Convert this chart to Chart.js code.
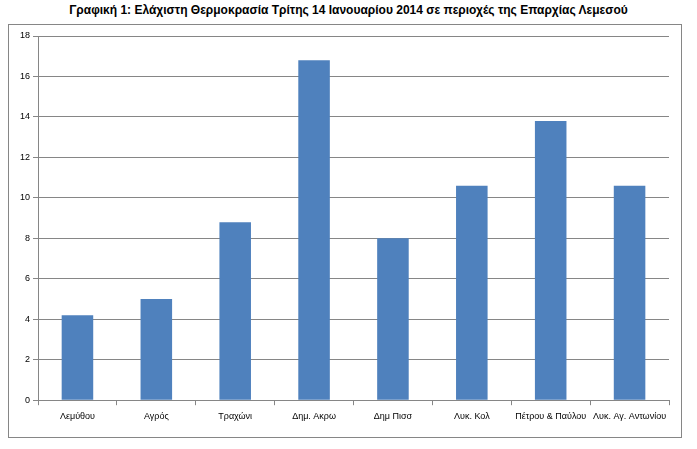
<!DOCTYPE html><html><head><script src="https://cdn.jsdelivr.net/npm/chart.js@4"></script>
<style>body{margin:0;background:#fff}#t{position:absolute;left:0;top:3px;width:697px;text-align:center;font:bold 12px "Liberation Sans";}#b{position:absolute;left:8px;top:24px;width:672px;height:412px;border:1px solid #868686;}#w{position:absolute;left:9px;top:26px;width:670px;height:410px}</style></head><body>
<div id="t">Γραφική 1: Ελάχιστη Θερμοκρασία Τρίτης 14 Ιανουαρίου 2014 σε περιοχές της Επαρχίας Λεμεσού</div>
<div id="b"></div><div id="w"><canvas id="c"></canvas></div>
<script>
const categories=["Λεμύθου","Αγρός","Τραχώνι","Δημ. Ακρω","Δημ Πισσ","Λυκ. Κολ","Πέτρου & Παύλου","Λυκ. Αγ. Αντωνίου"];
const values=[4.2,5.0,8.8,16.8,8.0,10.6,13.8,10.6];
new Chart(document.getElementById('c'),{type:'bar',data:{labels:categories,datasets:[{data:values,backgroundColor:'#4F81BD',categoryPercentage:1,barPercentage:0.4}]},
options:{responsive:true,maintainAspectRatio:false,animation:false,layout:{padding:{top:10,right:10,bottom:8,left:8}},plugins:{legend:{display:false},tooltip:{enabled:false}},
scales:{x:{grid:{display:true,drawOnChartArea:false,color:'#868686',tickLength:5},border:{color:'#868686'},ticks:{color:'#000',padding:6,font:{size:9,family:'Liberation Sans'},maxRotation:0,autoSkip:false}},
y:{min:0,max:18,ticks:{stepSize:2,color:'#000',font:{size:9,family:'Liberation Sans'}},grid:{color:'#868686',tickLength:5},border:{color:'#868686'}}}}});
</script></body></html>
